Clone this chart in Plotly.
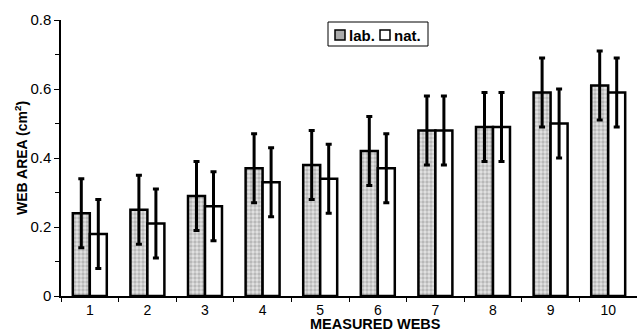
import plotly.graph_objects as go

webs = ["1", "2", "3", "4", "5", "6", "7", "8", "9", "10"]
lab = [0.24, 0.25, 0.29, 0.37, 0.38, 0.42, 0.48, 0.49, 0.59, 0.61]
nat = [0.18, 0.21, 0.26, 0.33, 0.34, 0.37, 0.48, 0.49, 0.50, 0.59]
lab_err = [0.10] * 10
nat_err = [0.10] * 10
series_names = ["lab.", "nat."]

font = "Liberation Sans, Arial, Helvetica, sans-serif"

W, H = 637, 332
L, R, T, B = 61, 0, 20, 36
pw = W - L - R
ph = H - T - B


def px(x):
    return (x - L) / pw


def py(y):
    return (H - B - y) / ph


fig = go.Figure()
fig.add_trace(go.Bar(
    x=webs, y=lab, name=series_names[0],
    marker=dict(color="white", line=dict(color="black", width=2.5),
                pattern=dict(shape=".", fgcolor="#8c8c8c", bgcolor="#e4e4e4", size=4, solidity=0.55)),
    error_y=dict(type="data", array=lab_err, color="black", thickness=3, width=3),
))
fig.add_trace(go.Bar(
    x=webs, y=nat, name=series_names[1],
    marker=dict(color="white", line=dict(color="black", width=2.5)),
    error_y=dict(type="data", array=nat_err, color="black", thickness=3, width=3),
))

# compact legend (box, swatches, labels)
shapes = [
    dict(type="rect", xref="paper", yref="paper", x0=px(328), x1=px(428), y0=py(46), y1=py(22),
         line=dict(color="black", width=1), fillcolor="white", layer="above"),
    dict(type="rect", xref="paper", yref="paper", x0=px(335), x1=px(345), y0=py(40), y1=py(30),
         line=dict(color="black", width=1.5), fillcolor="#ababab", layer="above"),
    dict(type="rect", xref="paper", yref="paper", x0=px(380), x1=px(390), y0=py(40), y1=py(30),
         line=dict(color="black", width=1.5), fillcolor="white", layer="above"),
]
legend_anns = [
    dict(text="<b>%s</b>" % series_names[0], xref="paper", yref="paper", x=px(347), y=py(35),
         xanchor="left", yanchor="middle", showarrow=False, font=dict(size=15)),
    dict(text="<b>%s</b>" % series_names[1], xref="paper", yref="paper", x=px(392), y=py(35),
         xanchor="left", yanchor="middle", showarrow=False, font=dict(size=15)),
]

fig.update_layout(
    width=W, height=H,
    margin=dict(l=L, r=R, t=T, b=B),
    plot_bgcolor="white", paper_bgcolor="white",
    barmode="group", bargap=0.41, bargroupgap=0,
    font=dict(family=font, size=14, color="black"),
    showlegend=False,
    xaxis=dict(type="category", showline=True, linecolor="black", linewidth=1.5,
               ticks="outside", tickson="boundaries", ticklen=4, tickcolor="black",
               showgrid=False, tickfont=dict(size=14)),
    yaxis=dict(range=[0, 0.8], showline=True, linecolor="black", linewidth=1.5,
               ticks="outside", ticklen=5, tickcolor="black",
               tickvals=[0, 0.2, 0.4, 0.6, 0.8], ticktext=["0", "0.2", "0.4", "0.6", "0.8"],
               minor=dict(tickvals=[0.1, 0.3, 0.5, 0.7], ticks="outside", ticklen=4, tickcolor="black"),
               showgrid=False, zeroline=False, tickfont=dict(size=15)),
    shapes=shapes,
    annotations=[
        dict(text="<b>MEASURED WEBS</b>", xref="paper", yref="paper",
             x=px(375), y=py(323.5), xanchor="center", yanchor="middle",
             showarrow=False, font=dict(size=14.5)),
        dict(text="<b>WEB AREA (cm<sup>2</sup>)</b>", xref="paper", yref="paper",
             x=px(21), y=py(158), xanchor="center", yanchor="middle",
             textangle=-90, showarrow=False, font=dict(size=14)),
    ] + legend_anns,
)

fig.write_html("out.html", config={"displayModeBar": False},
               post_script="document.body.style.margin='0';")
